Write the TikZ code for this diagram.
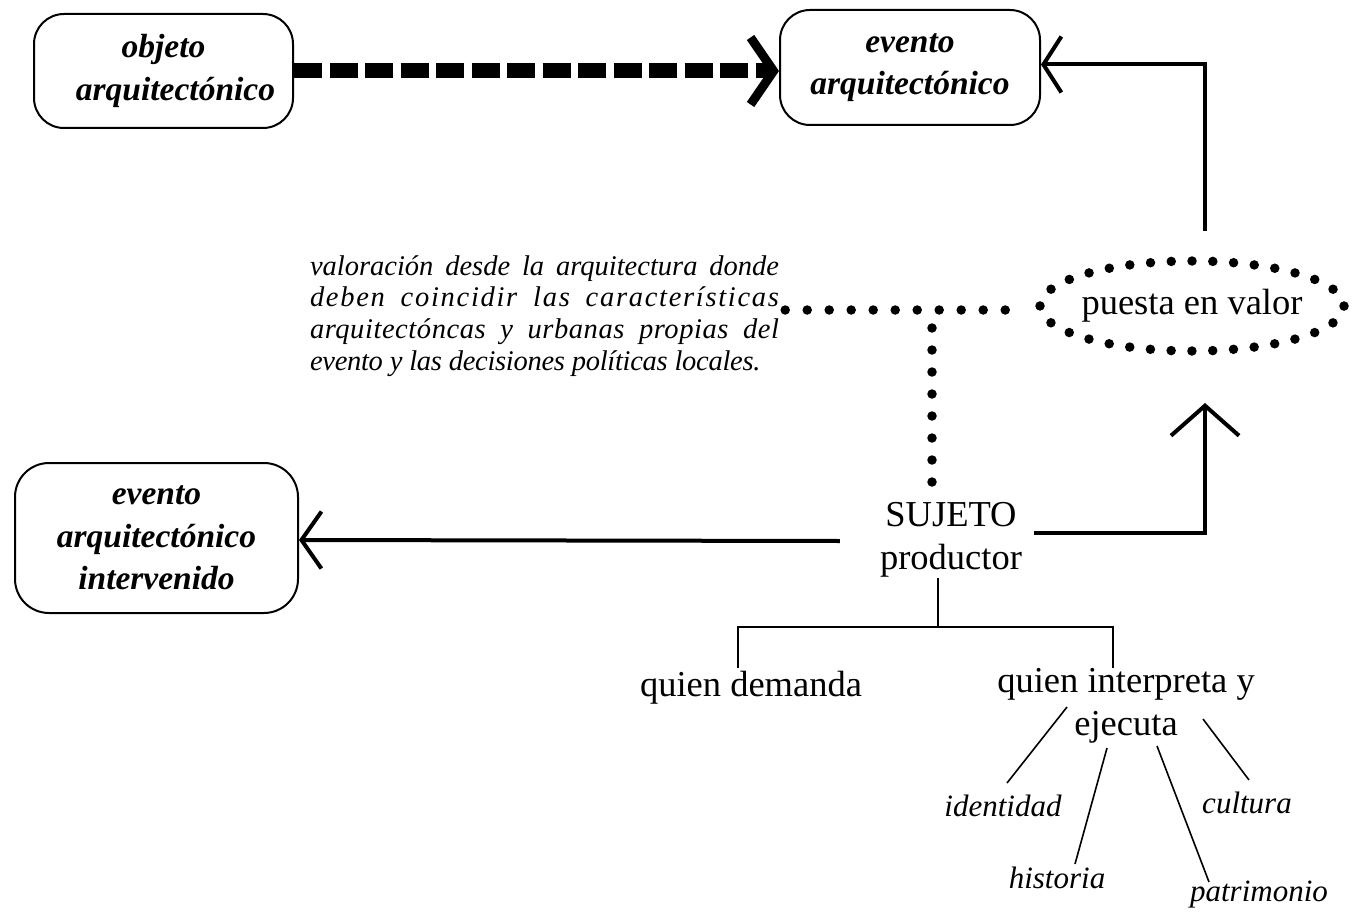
\documentclass[tikz,border=0pt]{standalone}
\usepackage{fontspec}
\setmainfont{Liberation Serif}
\usetikzlibrary{arrows.meta,calc}
\newcommand\fbig{\fontsize{36.5}{43}\selectfont}
\newcommand\boxfnt{\fontsize{33.5}{42.5}\selectfont\bfseries\itshape}
\newcommand\parfnt{\fontsize{28.5}{31.8}\selectfont\itshape}
\newcommand\labfnt{\fontsize{31}{36}\selectfont\itshape}
\begin{document}
\begin{tikzpicture}[x=1pt,y=-1pt,
  box/.style={draw,line width=2pt,rounded corners=30pt,align=center,font=\boxfnt,inner sep=0pt},
  txt/.style={inner sep=0pt,align=center,font=\fbig},
  lab/.style={inner sep=0pt,font=\labfnt},
  thickln/.style={line width=4pt},
  thinln/.style={line width=1.6pt},
  dotln/.style={line width=9.5pt,line cap=round,dash pattern=on 0pt off 22pt},
  dashln/.style={line width=15pt,dash pattern=on 28pt off 7.5pt},
  barbdash/.tip={Straight Barb[length=23pt,width=67pt,line width=9pt]},
  barbtop/.tip={Straight Barb[length=18pt,width=56pt,line width=4pt]},
  barbleft/.tip={Straight Barb[length=20pt,width=57pt,line width=4pt]},
  barbup/.tip={Straight Barb[length=30pt,width=68pt,line width=4pt]}
]
\useasboundingbox (0,0) rectangle (1354,915);
\fill[white] (0,0) rectangle (1354,915);

% boxes
\node[box,minimum width=259pt,minimum height=114pt] (obj) at (163.5,71) {objeto\\\hspace*{24pt}arquitectónico};
\node[box,minimum width=260pt,minimum height=115pt] (ev) at (910,67.5) {evento\\arquitectónico};
\node[box,minimum width=283pt,minimum height=150pt,rounded corners=34pt] (evi) at (156.5,538) {evento\\arquitectónico\\intervenido};

% puesta en valor
\node[txt] (pv) at (1192,306) {puesta en valor};
\draw[dotln,dash pattern=on 0pt off 20.79pt] (pv) ellipse [x radius=152pt, y radius=45pt];

% paragraph
\node[inner sep=0pt] (val) at (544.5,316) {\parbox{469pt}{\parfnt valoración desde la arquitectura donde\linebreak
{\addfontfeature{LetterSpace=6}deben coincidir las características}\linebreak
{\addfontfeature{LetterSpace=2}arquitectóncas y urbanas propias del}\linebreak
{\addfontfeature{LetterSpace=-1}evento y las decisiones políticas locales.}}};

% sujeto
\node[txt] (suj) at (951,540) {SUJETO\\productor};

% labels
\node[txt] (dem) at (751,688) {quien demanda};
\node[txt] (int) at (1126,706) {quien interpreta y\\ejecuta};
\node[lab] (idn) at (1003,806) {identidad};
\node[lab] (his) at (1057,878) {historia};
\node[lab] (pat) at (1259,895) {patrimonio};
\node[lab] (cul) at (1247,803) {cultura};

% coordinates
\coordinate (T) at (932,310);
\coordinate (pvtop) at (1205,231);
\coordinate (pvbot) at (1205,403);
\coordinate (S) at (938,627);
\coordinate (L) at (738,627);
\coordinate (R) at (1113,627);
\coordinate (i1) at (1067,707); \coordinate (i2) at (1007,783);
\coordinate (h1) at (1107,748); \coordinate (h2) at (1075,864);
\coordinate (p1) at (1157,746); \coordinate (p2) at (1209,882);
\coordinate (c1) at (1203,719); \coordinate (c2) at (1249,780);

% dashed arrow
\draw[dashln,-barbdash] (obj.east) -- (obj.east -| ev.west);

% top solid arrow
\draw[thickln,-barbtop] (pvtop) |- ([yshift=3pt]ev.east);

% dotted lines
\draw[dotln] ($(val.east |- T)+(6,0)$) -- ($(pv.west |- T)+(-70,0)$);
\draw[dotln] ($(T)+(0,18)$) -- ($(T)+(0,172)$);

% sujeto arrows
\draw[thickln,-barbleft] ($(suj.west)+(-40,1)$) -- (suj.west -| evi.east);
\draw[thickln,-barbup] ($(suj.east)+(12,-7)$) -| (pvbot);

% tree
\draw[thinln] (S |- suj.south) -- (S);
\draw[thinln] ($(L)+(0,41)$) -- (L) -- (R) -- ($(R)+(0,41)$);
\draw[thinln] (i1) -- (i2);
\draw[thinln] (h1) -- (h2);
\draw[thinln] (p1) -- (p2);
\draw[thinln] (c1) -- (c2);
\end{tikzpicture}
\end{document}
